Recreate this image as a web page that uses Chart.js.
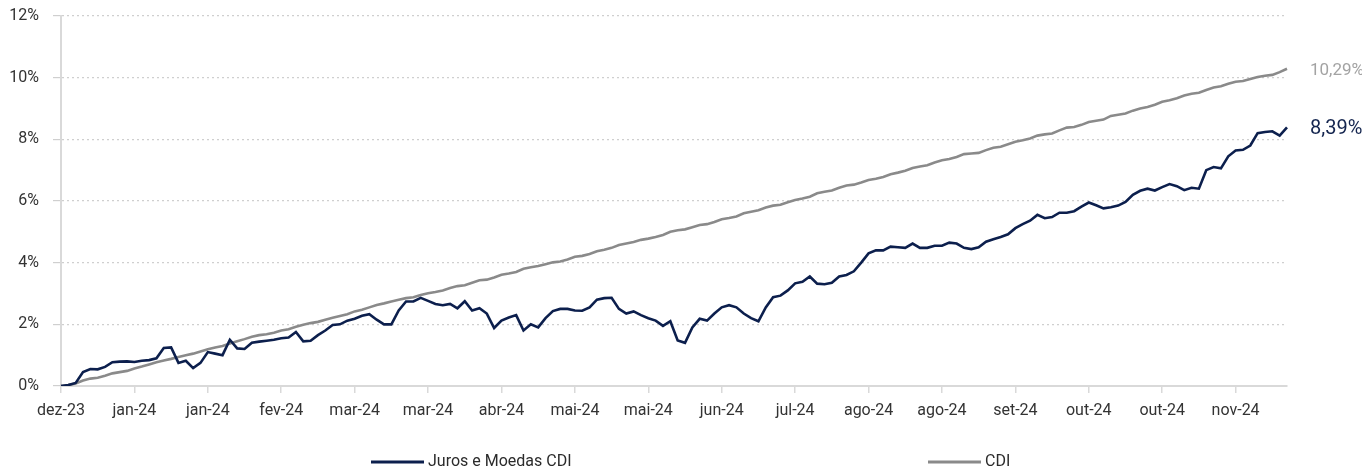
<!DOCTYPE html>
<html>
<head>
<meta charset="utf-8">
<script src="https://cdn.jsdelivr.net/npm/chart.js@4"></script>
<style>
  html, body { margin: 0; padding: 0; background: #fff; }
</style>
</head>
<body>
<canvas id="myChart" width="1362" height="469"></canvas>
<script>
const ctx = document.getElementById('myChart');

// rótulos do eixo x (um a cada 10 pontos)
const tickLabels = ['dez-23', 'jan-24', 'jan-24', 'fev-24', 'mar-24', 'mar-24', 'abr-24', 'mai-24', 'mai-24',
  'jun-24', 'jul-24', 'ago-24', 'ago-24', 'set-24', 'out-24', 'out-24', 'nov-24'];
const tickEvery = 10;

// retorno acumulado (%)
const juros = [
  0, 0.03, 0.1, 0.45, 0.55, 0.54, 0.62, 0.77, 0.79, 0.80,
  0.78, 0.82, 0.84, 0.9, 1.23, 1.25, 0.75, 0.82, 0.58, 0.75,
  1.1, 1.05, 1.0, 1.5, 1.22, 1.2, 1.4, 1.44, 1.47, 1.5,
  1.55, 1.57, 1.75, 1.45, 1.47, 1.65, 1.8, 1.98, 2.0, 2.12,
  2.18, 2.28, 2.33, 2.15, 2.0, 2.0, 2.45, 2.74, 2.74, 2.86,
  2.76, 2.66, 2.62, 2.66, 2.52, 2.75, 2.45, 2.52, 2.35, 1.88,
  2.12, 2.22, 2.3, 1.8, 2.0, 1.9, 2.2, 2.43, 2.5, 2.5,
  2.45, 2.44, 2.55, 2.8, 2.85, 2.86, 2.5, 2.35, 2.42, 2.3,
  2.2, 2.12, 1.95, 2.1, 1.48, 1.4, 1.9, 2.18, 2.12, 2.35,
  2.55, 2.62, 2.55, 2.35, 2.2, 2.1, 2.55, 2.88, 2.93, 3.1,
  3.33, 3.38, 3.55, 3.32, 3.3, 3.35, 3.55, 3.6, 3.72, 4.0,
  4.3, 4.4, 4.4, 4.52, 4.5, 4.48, 4.62, 4.48, 4.48, 4.55,
  4.55, 4.65, 4.62, 4.48, 4.44, 4.5, 4.68, 4.76, 4.83, 4.92,
  5.12, 5.25, 5.36, 5.55, 5.44, 5.48, 5.62, 5.62, 5.67, 5.82,
  5.95, 5.86, 5.76, 5.8, 5.85, 5.97, 6.2, 6.33, 6.4, 6.34,
  6.45, 6.55, 6.48, 6.35, 6.43, 6.4, 7.0, 7.1, 7.06, 7.45,
  7.64, 7.66, 7.8, 8.2, 8.24, 8.26, 8.12, 8.39
];
const cdi = [
  0, 0.03, 0.08, 0.18, 0.24, 0.27, 0.33, 0.41, 0.45, 0.49,
  0.57, 0.63, 0.7, 0.77, 0.83, 0.88, 0.94, 1.0, 1.05, 1.12,
  1.19, 1.25, 1.3, 1.38, 1.45, 1.52, 1.6, 1.65, 1.68, 1.73,
  1.8, 1.84, 1.92, 1.99, 2.04, 2.08, 2.15, 2.21, 2.27, 2.33,
  2.42, 2.47, 2.55, 2.63, 2.68, 2.74, 2.8, 2.85, 2.88, 2.95,
  3.01, 3.05, 3.1, 3.18, 3.24, 3.27, 3.35, 3.43, 3.45, 3.52,
  3.61, 3.65, 3.7, 3.8, 3.85, 3.89, 3.95, 4.01, 4.04, 4.1,
  4.19, 4.22, 4.28, 4.37, 4.42, 4.48, 4.57, 4.62, 4.67, 4.74,
  4.78, 4.83, 4.9, 5.0, 5.05, 5.08, 5.15, 5.22, 5.25, 5.32,
  5.41, 5.45, 5.5, 5.6, 5.65, 5.7, 5.79, 5.85, 5.88, 5.96,
  6.03, 6.08, 6.14, 6.25, 6.3, 6.34, 6.43, 6.5, 6.53, 6.6,
  6.68, 6.72, 6.78, 6.87, 6.92, 6.98, 7.07, 7.12, 7.16, 7.25,
  7.32, 7.36, 7.43, 7.52, 7.54, 7.56, 7.65, 7.73, 7.76, 7.84,
  7.92, 7.97, 8.03, 8.12, 8.16, 8.19, 8.29, 8.38, 8.4, 8.47,
  8.56, 8.6, 8.64, 8.76, 8.8, 8.84, 8.93, 9.0, 9.05, 9.12,
  9.22, 9.27, 9.33, 9.42, 9.48, 9.51, 9.6, 9.68, 9.72, 9.8,
  9.87, 9.89, 9.96, 10.02, 10.06, 10.09, 10.18, 10.29
];
const pontos = juros.map((_, i) => i);

const navy = '#0c1f4d';
const gray = '#8a8a8a';
const fontFamily = 'Roboto, "Noto Sans", sans-serif';

const fmt = v => v.toFixed(2).replace('.', ',') + '%';

// rótulo com o último valor ao lado de cada linha
const endLabels = {
  id: 'endLabels',
  afterDatasetsDraw(chart) {
    const c = chart.ctx;
    chart.data.datasets.forEach((ds, i) => {
      const meta = chart.getDatasetMeta(i);
      const last = meta.data[meta.data.length - 1];
      c.save();
      c.font = ds.endFont + ' ' + fontFamily;
      c.fillStyle = ds.endColor;
      c.textAlign = 'left';
      c.textBaseline = 'middle';
      c.fillText(fmt(ds.data[ds.data.length - 1]), last.x + 23, last.y + 2);
      c.restore();
    });
  }
};

// legenda desenhada à mão (itens bem espaçados)
const bottomLegend = {
  id: 'bottomLegend',
  afterDraw(chart) {
    const c = chart.ctx;
    const y = chart.height - 7;
    const starts = [371, 928];
    c.save();
    c.font = '16px ' + fontFamily;
    c.textBaseline = 'middle';
    chart.data.datasets.forEach((ds, i) => {
      const x = starts[i];
      c.strokeStyle = ds.borderColor;
      c.lineWidth = 3;
      c.beginPath();
      c.moveTo(x, y);
      c.lineTo(x + 53, y);
      c.stroke();
      c.fillStyle = '#2b2b2b';
      c.fillText(ds.label, x + 57, y);
    });
    c.restore();
  }
};

new Chart(ctx, {
  type: 'line',
  data: {
    labels: pontos,
    datasets: [{
      label: 'Juros e Moedas CDI',
      data: juros,
      borderColor: navy,
      backgroundColor: navy,
      borderWidth: 2.6,
      pointRadius: 0,
      tension: 0,
      endColor: '#14254f',
      endFont: '20px'
    }, {
      label: 'CDI',
      data: cdi,
      borderColor: gray,
      backgroundColor: gray,
      borderWidth: 2.6,
      pointRadius: 0,
      tension: 0,
      endColor: '#a3a3a3',
      endFont: '17px'
    }]
  },
  options: {
    responsive: false,
    animation: false,
    layout: {
      padding: { top: 16, right: 75, bottom: 43, left: 9 }
    },
    plugins: {
      legend: { display: false },
      tooltip: { enabled: false }
    },
    scales: {
      x: {
        afterFit: scale => { scale.height = 40; },
        grid: {
          drawOnChartArea: false,
          tickColor: '#d9d9d9',
          tickLength: 7,
          lineWidth: 1.5
        },
        border: { color: '#d9d9d9', width: 2 },
        ticks: {
          autoSkip: false,
          maxRotation: 0,
          minRotation: 0,
          padding: 8,
          color: '#333',
          font: { family: fontFamily, size: 16 },
          callback: (v, i) => i % tickEvery === 0 ? tickLabels[i / tickEvery] : null
        }
      },
      y: {
        min: 0,
        max: 12,
        afterFit: scale => {
          scale.width = 52;
          scale.paddingTop = 0;
          scale.paddingBottom = 0;
        },
        grid: {
          color: '#cfcfcf',
          tickLength: 8,
          lineWidth: 1.2
        },
        border: { color: '#d9d9d9', width: 2, dash: [2, 3] },
        ticks: {
          stepSize: 2,
          padding: 14,
          color: '#333',
          font: { family: fontFamily, size: 16 },
          callback: v => v + '%'
        }
      }
    }
  },
  plugins: [endLabels, bottomLegend]
});
</script>
</body>
</html>
